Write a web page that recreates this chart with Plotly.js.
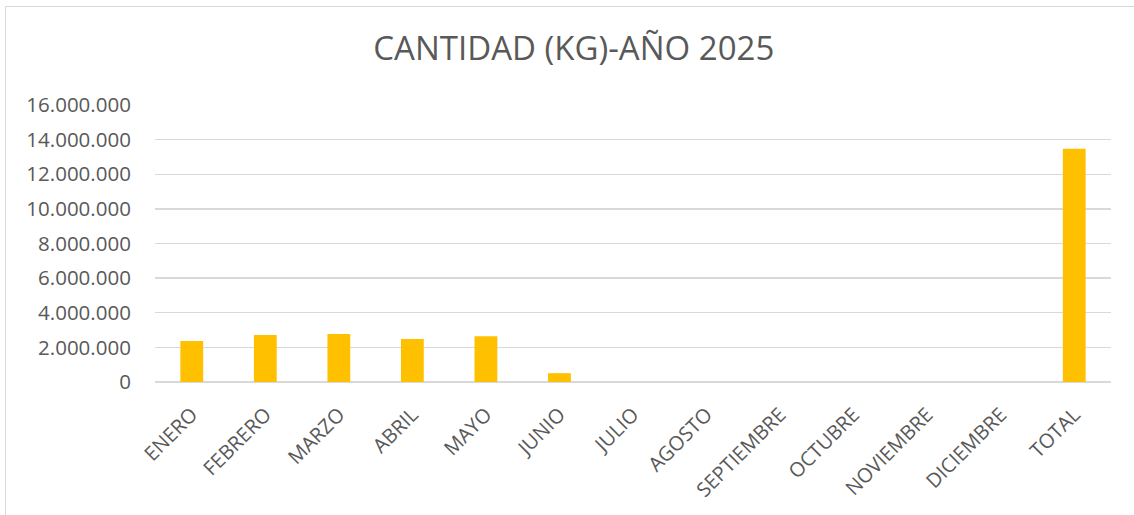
<!DOCTYPE html>
<html><head><meta charset="utf-8">
<script src="https://cdn.plot.ly/plotly-3.0.1.min.js"></script>
<style>
html,body{margin:0;padding:0;background:#fff;}
#chart{width:1134px;height:515px;position:relative;}
#frame{position:absolute;left:5px;top:6px;width:1129px;height:509px;border-top:1px solid #d9d9d9;border-left:1px solid #d9d9d9;pointer-events:none;}
</style></head>
<body>
<div id="chart"></div>
<div id="frame"></div>
<script>
const categories = ["ENERO","FEBRERO","MARZO","ABRIL","MAYO","JUNIO","JULIO","AGOSTO","SEPTIEMBRE","OCTUBRE","NOVIEMBRE","DICIEMBRE","TOTAL"];
const cantidadKg = [2370000, 2710000, 2770000, 2480000, 2640000, 510000, 0, 0, 0, 0, 0, 0, 13480000];
const titleText = "CANTIDAD (KG)-AÑO 2025";
const yTicks = [0,2000000,4000000,6000000,8000000,10000000,12000000,14000000,16000000];

const font = "'Open Sans', 'Liberation Sans', sans-serif";
Plotly.newPlot('chart', [{
  type:'bar', x:categories, y:cantidadKg,
  marker:{color:'#FFC000'}, hoverinfo:'x+y'
}], {
  width:1134, height:515,
  paper_bgcolor:'#fff', plot_bgcolor:'#fff',
  separators:',.',
  margin:{l:155,r:23,t:105,b:133},
  bargap:0.69,
  title:{text:titleText, x:0.506, xanchor:'center', y:0.905, yanchor:'middle', font:{family:font, size:33, color:'#595959'}},
  xaxis:{type:'category', tickangle:-45, tickfont:{family:font,size:20,color:'#595959'}, showgrid:false, showline:false,
    ticks:'outside', ticklen:12, tickcolor:'rgba(0,0,0,0)', zeroline:false, fixedrange:true},
  yaxis:{range:[0,16000000], tickvals:yTicks, tickformat:',d', tickfont:{family:font,size:20.5,color:'#595959'},
    showgrid:true, gridcolor:'#d9d9d9', gridwidth:1.3, zeroline:true, zerolinecolor:'#d9d9d9', zerolinewidth:1.3,
    ticks:'outside', ticklen:19, tickcolor:'rgba(0,0,0,0)', showline:false, fixedrange:true},
  showlegend:false
}, {displayModeBar:false, staticPlot:true});
</script>
</body></html>
